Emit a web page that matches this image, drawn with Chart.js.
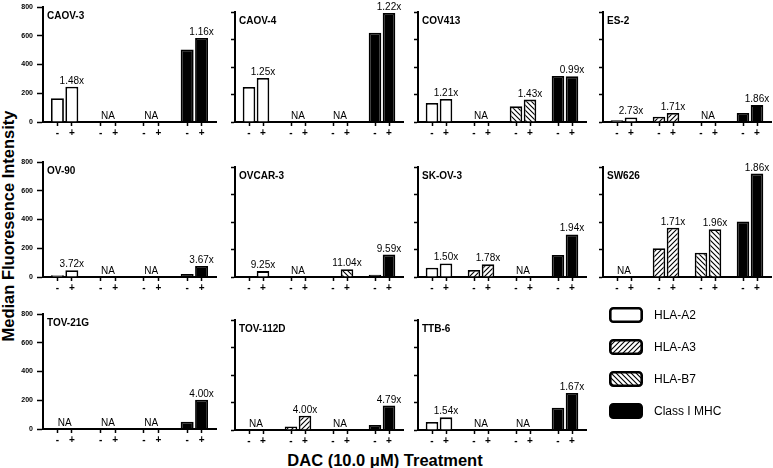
<!DOCTYPE html>
<html>
<head>
<meta charset="utf-8">
<script src="https://cdn.jsdelivr.net/npm/chart.js@4.4.0/dist/chart.umd.min.js"></script>
<style>
  body { margin: 0; background: #fff; width: 773px; height: 468px; overflow: hidden; position: relative;
         font-family: "Liberation Sans", Arial, sans-serif; color: #000; }
  canvas.panel { position: absolute; }
  #ytitle { position: absolute; left: 8px; top: 226px; transform: translate(-50%, -50%) rotate(-90deg);
            font-weight: bold; font-size: 16.5px; white-space: nowrap; }
  #xtitle { position: absolute; left: 385px; top: 460px; transform: translate(-50%, -50%);
            font-weight: bold; font-size: 16.5px; white-space: nowrap; }
  .sw { position: absolute; left: 608px; }
  .lt { position: absolute; left: 654px; font-size: 12px; line-height: 16px; white-space: nowrap; }
</style>
</head>
<body>
<div id="ytitle">Median Fluoresence Intensity</div>
<div id="xtitle">DAC (10.0 μM) Treatment</div>
<script>
const groups = ['HLA-A2', 'HLA-A3', 'HLA-B7', 'Class I MHC'];
const treatments = ['-', '+'];
const yTicks = [0, 200, 400, 600, 800];
const cellLines = ['CAOV-3', 'CAOV-4', 'COV413', 'ES-2', 'OV-90', 'OVCAR-3', 'SK-OV-3', 'SW626',
                   'TOV-21G', 'TOV-112D', 'TTB-6'];

// median fluorescence, untreated (-) and DAC treated (+), per HLA group
const caov3Minus = [165, null, null, 505];
const caov3Plus = [245, null, null, 585];
const caov3Fold = ['1.48x', 'NA', 'NA', '1.16x'];
const caov4Minus = [255, null, null, 650];
const caov4Plus = [320, null, null, 793];
const caov4Fold = ['1.25x', 'NA', 'NA', '1.22x'];
const cov413Minus = [138, null, 114, 335];
const cov413Plus = [168, null, 163, 332];
const cov413Fold = ['1.21x', 'NA', '1.43x', '0.99x'];
const es2Minus = [12, 38, null, 66];
const es2Plus = [33, 65, null, 123];
const es2Fold = ['2.73x', '1.71x', 'NA', '1.86x'];
const ov90Minus = [13, null, null, 21];
const ov90Plus = [47, null, null, 77];
const ov90Fold = ['3.72x', 'NA', 'NA', '3.67x'];
const ovcar3Minus = [5, null, 5, 17];
const ovcar3Plus = [43, null, 56, 163];
const ovcar3Fold = ['9.25x', 'NA', '11.04x', '9.59x'];
const skov3Minus = [67, 51, null, 160];
const skov3Plus = [99, 92, null, 310];
const skov3Fold = ['1.50x', '1.78x', 'NA', '1.94x'];
const sw626Minus = [null, 210, 177, 404];
const sw626Plus = [null, 358, 347, 752];
const sw626Fold = ['NA', '1.71x', '1.96x', '1.86x'];
const tov21gMinus = [null, null, null, 51];
const tov21gPlus = [null, null, null, 204];
const tov21gFold = ['NA', 'NA', 'NA', '4.00x'];
const tov112dMinus = [null, 26, null, 37];
const tov112dPlus = [null, 104, null, 178];
const tov112dFold = ['NA', '4.00x', 'NA', '4.79x'];
const ttb6Minus = [59, null, null, 162];
const ttb6Plus = [92, null, null, 270];
const ttb6Fold = ['1.54x', 'NA', 'NA', '1.67x'];

const allMinus = [caov3Minus, caov4Minus, cov413Minus, es2Minus, ov90Minus, ovcar3Minus,
                  skov3Minus, sw626Minus, tov21gMinus, tov112dMinus, ttb6Minus];
const allPlus = [caov3Plus, caov4Plus, cov413Plus, es2Plus, ov90Plus, ovcar3Plus,
                 skov3Plus, sw626Plus, tov21gPlus, tov112dPlus, ttb6Plus];
const allFold = [caov3Fold, caov4Fold, cov413Fold, es2Fold, ov90Fold, ovcar3Fold,
                 skov3Fold, sw626Fold, tov21gFold, tov112dFold, ttb6Fold];

// layout of the small panels (plot area edges in page pixels)
const colLeft = [43, 235, 418, 603];
const colWidth = [173, 168, 168, 168];
const firstColTop = [7, 162, 314];
const otherColTop = [12, 167, 320];
const FONT = '"Liberation Sans", Arial, sans-serif';

Chart.defaults.font.family = FONT;
Chart.defaults.color = '#000';

function hatch(dir) {
  const s = 5;
  const c = document.createElement('canvas');
  c.width = c.height = s;
  const g = c.getContext('2d');
  g.fillStyle = '#fff';
  g.fillRect(0, 0, s, s);
  g.strokeStyle = '#000';
  g.lineWidth = 1.1;
  g.beginPath();
  if (dir > 0) {
    g.moveTo(-1, s + 1); g.lineTo(s + 1, -1);
    g.moveTo(-1, 1); g.lineTo(1, -1);
    g.moveTo(s - 1, s + 1); g.lineTo(s + 1, s - 1);
  } else {
    g.moveTo(-1, -1); g.lineTo(s + 1, s + 1);
    g.moveTo(s - 1, -1); g.lineTo(s + 1, 1);
    g.moveTo(-1, s - 1); g.lineTo(1, s + 1);
  }
  g.stroke();
  return g.createPattern(c, 'repeat');
}
const fills = ['#fff', hatch(1), hatch(-1), '#000'];

// fold-change / NA labels and the cell line name
const annot = {
  id: 'annot',
  afterDatasetsDraw(chart, args, opts) {
    const { ctx, chartArea, scales } = chart;
    const m0 = chart.getDatasetMeta(0).data;
    const m1 = chart.getDatasetMeta(1).data;
    ctx.save();
    ctx.fillStyle = '#000';
    ctx.font = 'bold 10px ' + FONT;
    ctx.textAlign = 'left';
    ctx.textBaseline = 'middle';
    ctx.fillText(opts.name, chartArea.left + 4, chartArea.top + 9);
    ctx.font = '10px ' + FONT;
    ctx.textAlign = 'center';
    ctx.textBaseline = 'alphabetic';
    opts.fold.forEach((txt, g) => {
      if (opts.minus[g] == null) {
        ctx.fillText(txt, scales.x.getPixelForValue(g), chartArea.bottom - 3);
      } else {
        ctx.fillText(txt, m1[g].x, Math.min(m0[g].y, m1[g].y) - 3);
      }
    });
    ctx.restore();
  }
};

const slotTicks = [];
groups.forEach((g, i) => treatments.forEach((t, j) => slotTicks.push(i * 3 + 1 + j)));

cellLines.forEach((name, i) => {
  const col = i % 4, row = Math.floor(i / 4);
  const w = colWidth[col];
  const h = col === 0 ? 115 : 110;
  const top = (col === 0 ? firstColTop : otherColTop)[row];
  const padL = 40, padT = 14, padR = 8, padB = 22;
  const cv = document.createElement('canvas');
  cv.className = 'panel';
  cv.width = padL + w + padR;
  cv.height = padT + h + padB;
  cv.style.left = (colLeft[col] - padL) + 'px';
  cv.style.top = (top - padT) + 'px';
  document.body.appendChild(cv);

  new Chart(cv, {
    type: 'bar',
    data: {
      labels: groups,
      datasets: [allMinus[i], allPlus[i]].map((vals, t) => ({
        label: treatments[t],
        data: vals,
        backgroundColor: c => fills[c.dataIndex],
        borderColor: '#000',
        borderWidth: 1.8,
        categoryPercentage: 2 / 3,
        barPercentage: 0.9
      }))
    },
    options: {
      responsive: false,
      animation: false,
      devicePixelRatio: 1,
      layout: { padding: { top: padT, right: padR, left: 0, bottom: 0 } },
      plugins: {
        legend: { display: false },
        tooltip: { enabled: false },
        annot: { name: name, fold: allFold[i], minus: allMinus[i] }
      },
      scales: {
        x: { type: 'category', display: false },
        x2: {
          type: 'linear', position: 'bottom', min: 0, max: groups.length * 3, offset: false,
          afterBuildTicks: sc => { sc.ticks = slotTicks.map(v => ({ value: v })); },
          afterFit: sc => { sc.height = padB; },
          border: { color: '#000', width: 2 },
          grid: { offset: false, drawOnChartArea: false, tickLength: 4, tickColor: '#000', tickWidth: 1.5 },
          ticks: {
            autoSkip: false, maxRotation: 0, padding: 1,
            font: { size: 10, weight: 'bold' },
            callback: (v, idx) => treatments[idx % treatments.length]
          }
        },
        y: {
          min: 0, max: 800,
          afterBuildTicks: sc => { sc.ticks = yTicks.map(v => ({ value: v })); },
          afterFit: sc => { sc.width = padL; },
          border: { color: '#000', width: 2 },
          grid: { drawOnChartArea: false, tickLength: col === 0 ? 6 : 4, tickColor: '#000', tickWidth: 1.5 },
          ticks: { display: col === 0, padding: 4, font: { size: 7, weight: 'bold' } }
        }
      }
    },
    plugins: [annot]
  });
});

// legend in the empty last panel
groups.forEach((g, i) => {
  const top = 307 + 32 * i;
  const sw = document.createElement('canvas');
  sw.className = 'sw';
  sw.width = 36; sw.height = 18;
  sw.style.top = (top - 1) + 'px';
  document.body.appendChild(sw);
  const c = sw.getContext('2d');
  c.fillStyle = fills[i];
  c.strokeStyle = '#000';
  c.lineWidth = 2.6;
  c.beginPath();
  c.roundRect(2.3, 2.3, 31.4, 13.4, 3);
  c.fill();
  c.stroke();
  const lt = document.createElement('div');
  lt.className = 'lt';
  lt.style.top = top + 'px';
  lt.textContent = g;
  document.body.appendChild(lt);
});
</script>
</body>
</html>
